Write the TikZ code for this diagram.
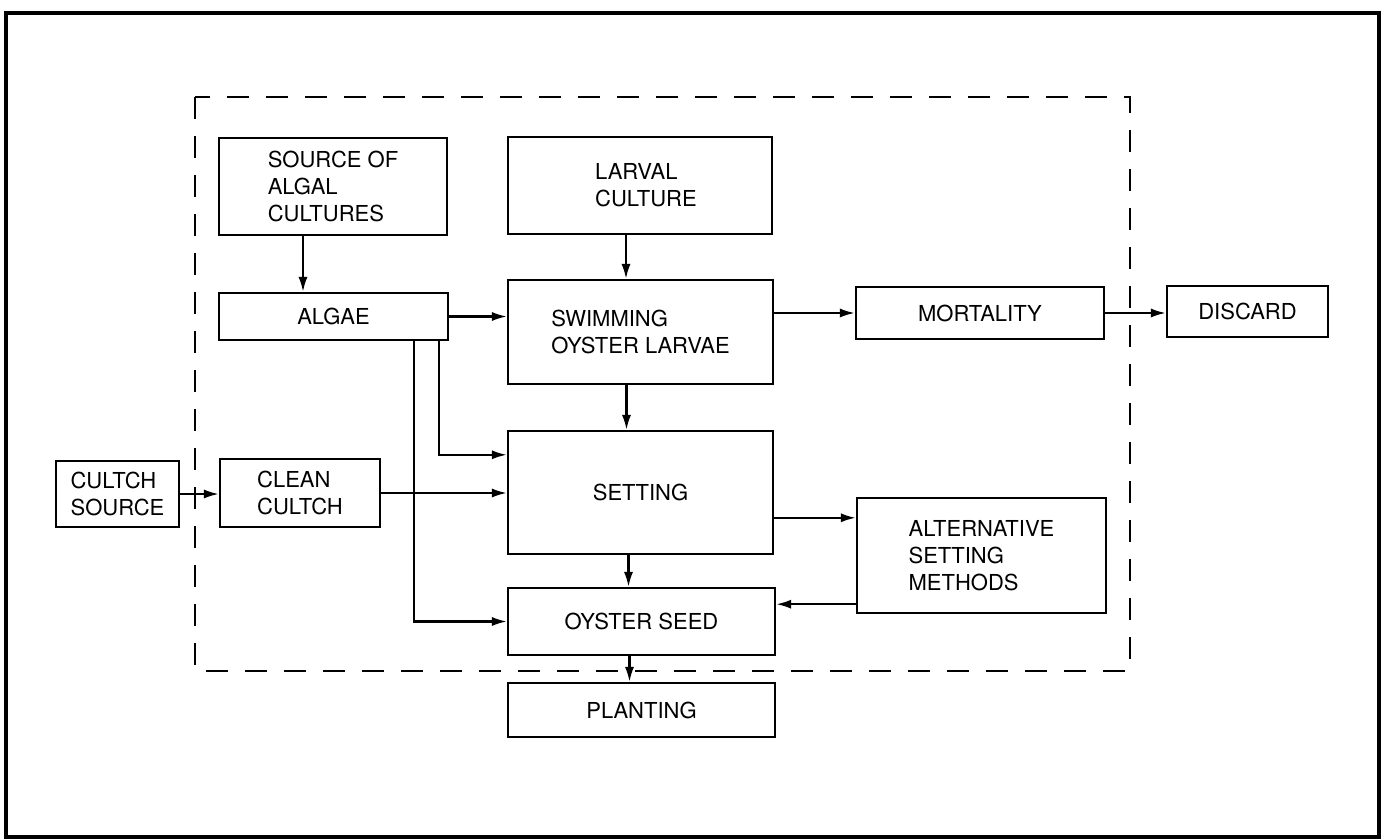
\documentclass[tikz,border=0pt]{standalone}
\usepackage{fontspec}
\setmainfont{TeX Gyre Heros}
\usetikzlibrary{arrows.meta}
\tikzset{
  box/.style={draw, line width=1.2pt, rectangle, align=left, inner sep=0pt,
    font=\fontsize{11}{13.5}\selectfont},
  arr/.style={line width=1.1pt, -{Latex[length=7.5pt,width=4.6pt]}},
  frame/.style={line width=1.8pt},
  dashframe/.style={line width=1pt, dash pattern=on 11pt off 8.5pt}
}
\begin{document}
\begin{tikzpicture}[x=0.5pt,y=-0.5pt]
\useasboundingbox (0,0) rectangle (1383,840);
\draw[frame] (6,13) rectangle (1379,837);
\draw[dashframe] (195,97) rectangle (1130,671);

\node[box, minimum width=114pt, minimum height=48.5pt] (src) at (333,186.5) {SOURCE OF\\ALGAL\\CULTURES};
\node[box, minimum width=132pt, minimum height=48.5pt] (larval) at (640,185.5) {\hspace*{6pt}LARVAL\\\hspace*{6pt}CULTURE};
\node[box, minimum width=114.5pt, minimum height=23.5pt] (algae) at (333.5,316.5) {ALGAE};
\node[box, minimum width=132.5pt, minimum height=52pt] (swim) at (640.5,332) {SWIMMING\\OYSTER LARVAE};
\node[box, minimum width=124pt, minimum height=26pt] (mort) at (980,313) {MORTALITY};
\node[box, minimum width=80.5pt, minimum height=25.5pt] (disc) at (1247.5,311.5) {DISCARD};
\node[box, minimum width=132.5pt, minimum height=61.5pt] (set) at (640.5,492.5) {SETTING};
\node[box, minimum width=61.5pt, minimum height=33pt] (csrc) at (117.5,494) {CULTCH\\SOURCE};
\node[box, minimum width=80pt, minimum height=34pt] (clean) at (300,493) {CLEAN\\CULTCH};
\node[box, minimum width=133.5pt, minimum height=33.5pt] (seed) at (641.5,621.5) {OYSTER SEED};
\node[box, minimum width=133.5pt, minimum height=27pt] (plant) at (641.5,710) {PLANTING};
\node[box, minimum width=124.5pt, minimum height=57.5pt] (alt) at (981.5,555.5) {ALTERNATIVE\\SETTING\\METHODS};

% arrows
\draw[arr] ([xshift=-15pt]src.south) -- ([xshift=-15pt]src.south |- algae.north);
\draw[arr] ([xshift=-7pt]larval.south) -- ([xshift=-7pt]larval.south |- swim.north);
\draw[arr] (algae.east) -- (algae -| swim.west);
\draw[arr] (mort -| swim.east) -- (mort.west);
\draw[arr] (mort.east) -- (mort -| disc.west);
\draw[arr] ([xshift=-7pt]swim.south) -- ([xshift=-7pt]swim.south |- set.north);
\coordinate (a1) at ([xshift=-5pt]algae.south east);
\coordinate (a2) at ([xshift=-17.5pt]algae.south east);
\coordinate (s1) at ([yshift=-12.5pt]set.north west);
\draw[arr] (a1) |- (s1);
\draw[arr] (a2) |- (seed.west);
\draw[arr] (csrc.east) -- (csrc -| clean.west);
\draw[arr] (clean.east) -- (clean -| set.west);
\draw[arr] ([xshift=-6pt]set.south) -- ([xshift=-6pt]set.south |- seed.north);
\draw[arr] ([xshift=-6pt]seed.south) -- ([xshift=-6pt]seed.south |- plant.north);
\coordinate (t1) at ([yshift=-10.5pt]alt.north west);
\draw[arr] (t1 -| set.east) -- (t1);
\coordinate (t2) at ([yshift=5pt]alt.south west);
\draw[arr] (t2) -- (t2 -| seed.east);
\end{tikzpicture}
\end{document}
